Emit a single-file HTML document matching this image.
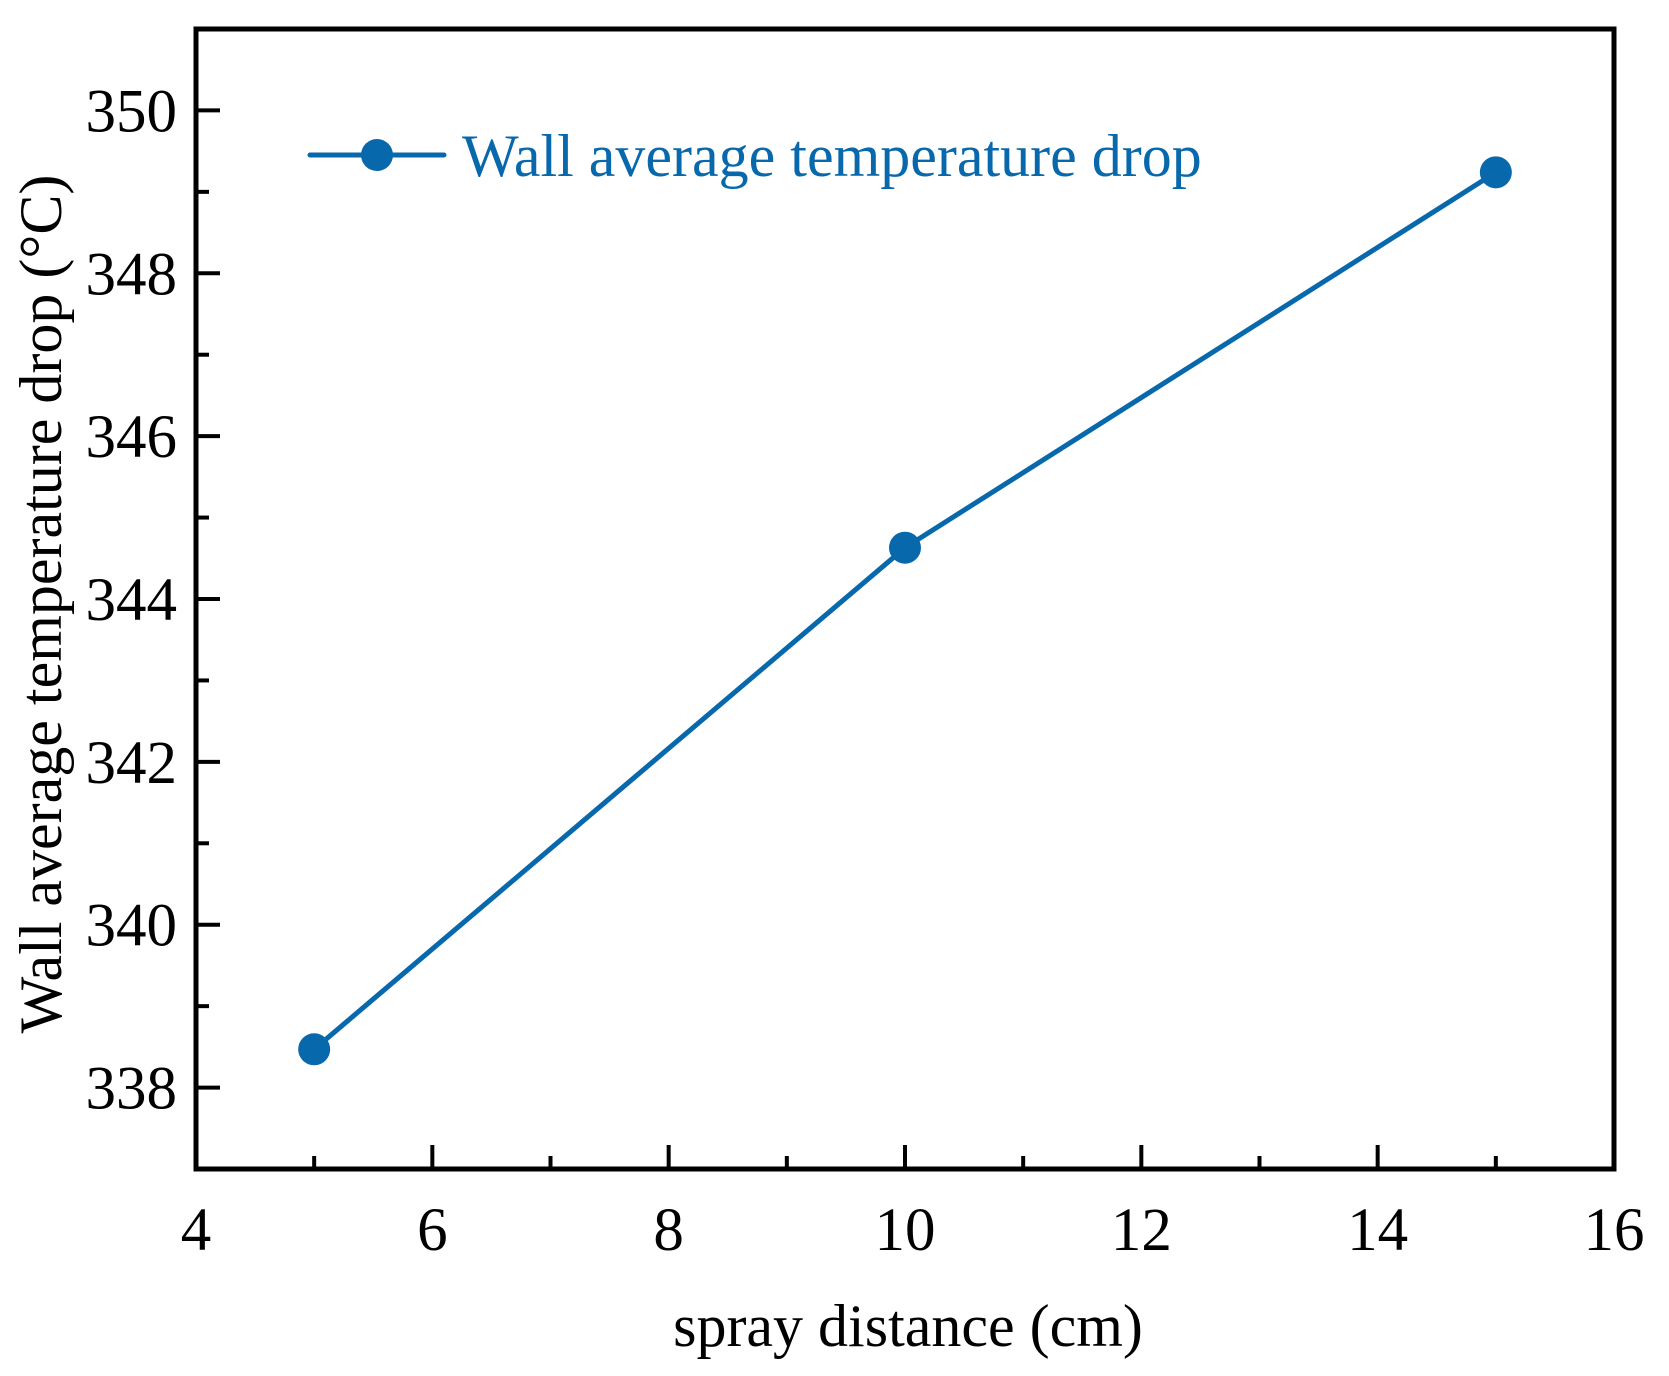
<!DOCTYPE html>
<html><head><meta charset="utf-8"><style>
html,body{margin:0;padding:0;background:#fff}
svg{display:block}
text{font-family:"Liberation Serif",serif}
</style></head><body>
<svg id="chart" width="1669" height="1376" viewBox="0 0 1669 1376">
<g id="plot"></g>
</svg>
<script>
const xTicks=[4,6,8,10,12,14,16];
const yTicks=[338,340,342,344,346,348,350];
const xValues=[5,10,15];
const yValues=[338.47,344.63,349.24];
const seriesName="Wall average temperature drop";
const L=196,R=1614,T=29,B=1169;
const xMin=4,xMax=16,yMin=337,yMax=351;
const sx=v=>L+(v-xMin)/(xMax-xMin)*(R-L);
const sy=v=>B-(v-yMin)/(yMax-yMin)*(B-T);
const NS="http://www.w3.org/2000/svg";
const g=document.getElementById('plot');
function mk(tag,attrs,parent){const e=document.createElementNS(NS,tag);for(const k in attrs)e.setAttribute(k,attrs[k]);(parent||g).appendChild(e);return e;}
const color="#0868ac";
let pts=xValues.map((x,i)=>sx(x)+","+sy(yValues[i])).join(" ");
const line=mk('polyline',{points:pts,fill:"none",stroke:color,"stroke-width":5,"stroke-linejoin":"round"});


xValues.forEach((x,i)=>{
 const c=mk('circle',{cx:sx(x),cy:sy(yValues[i]),r:16,fill:color});
 
 
});
const box=mk('rect',{x:L,y:T,width:R-L,height:B-T,fill:"none",stroke:"#000","stroke-width":5});


for(let v=xMin;v<=xMax;v+=1){
 const major=xTicks.includes(v);
 const t=mk('line',{x1:sx(v),x2:sx(v),y1:B,y2:B-(major?24:13),stroke:"#000","stroke-width":4});
 
 
}
xTicks.forEach(v=>{
 const t=mk('text',{x:sx(v),y:1250,"text-anchor":"middle","font-size":61});
 t.textContent=v;
 
 
});
for(let v=yMin+1;v<yMax;v+=1){
 const major=yTicks.includes(v);
 const t=mk('line',{x1:L,x2:L+(major?24:13),y1:sy(v),y2:sy(v),stroke:"#000","stroke-width":4});
 
 
}
yTicks.forEach(v=>{
 const t=mk('text',{x:177,y:sy(v)+21,"text-anchor":"end","font-size":61});
 t.textContent=v;
 
 
});
const xt=mk('text',{x:908,y:1346,"text-anchor":"middle","font-size":60});
xt.textContent="spray distance (cm)";


const yt=mk('text',{x:0,y:0,"text-anchor":"middle","font-size":60,transform:"translate(61,604) rotate(-90)"});
yt.textContent="Wall average temperature drop (°C)";


const lg=mk('g',{});


mk('line',{x1:310,x2:444,y1:155,y2:155,stroke:color,"stroke-width":5,"stroke-linecap":"round"},lg);
mk('circle',{cx:377,cy:155,r:16,fill:color},lg);
const lt=mk('text',{x:462,y:176,"font-size":60,fill:color},lg);
lt.textContent=seriesName;
</script>
</body></html>
